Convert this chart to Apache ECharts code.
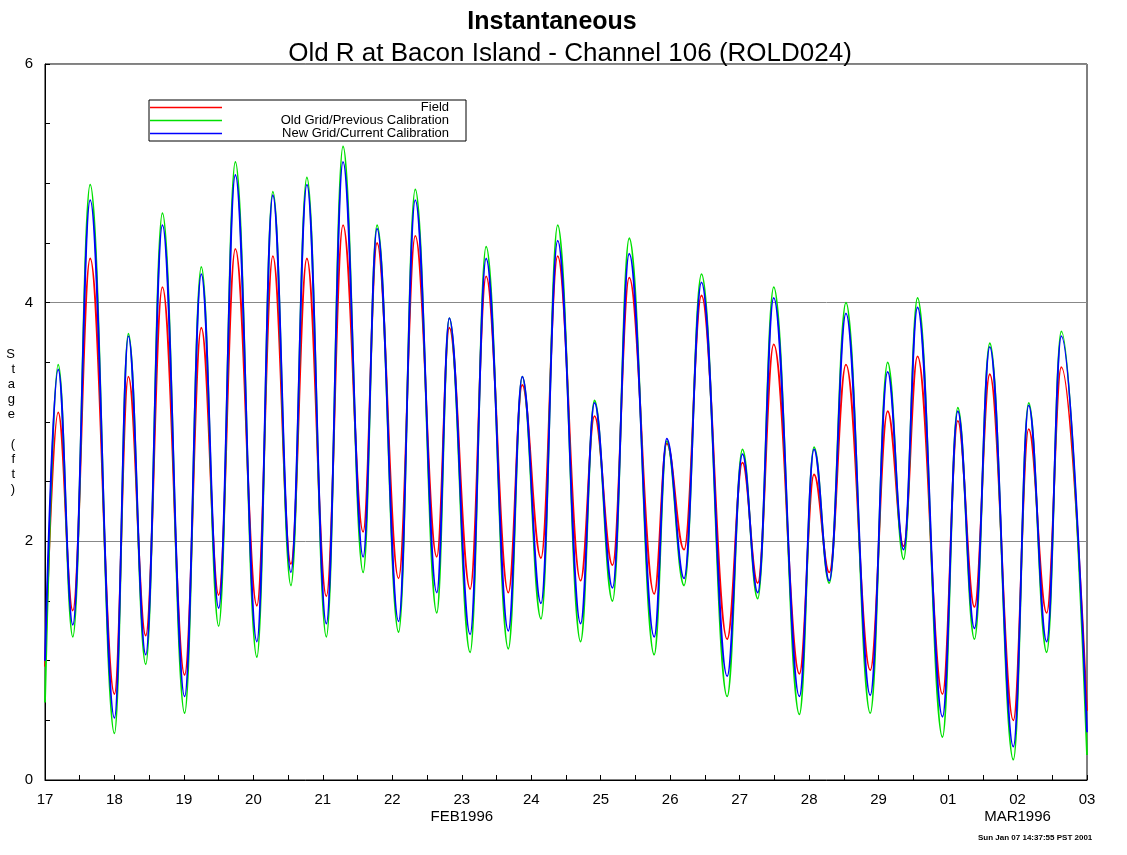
<!DOCTYPE html>
<html>
<head>
<meta charset="utf-8">
<script src="https://cdn.jsdelivr.net/npm/echarts@6/dist/echarts.min.js"></script>
<style>
html,body{margin:0;padding:0;background:#fff;}
#chart{width:1127px;height:855px;}
</style>
</head>
<body>
<div id="chart"></div>
<script>
// time in days since 17 FEB 1996 00:00 (high/low water turning points)
var timeDays = [0, 0.19, 0.40, 0.65, 1.00, 1.20, 1.45, 1.69, 2.01, 2.25, 2.50, 2.74, 3.05, 3.28, 3.54, 3.77, 4.05, 4.29, 4.58, 4.78, 5.09, 5.33, 5.64, 5.82, 6.12, 6.35, 6.67, 6.87, 7.14, 7.38, 7.71, 7.91, 8.17, 8.41, 8.77, 8.95, 9.20, 9.45, 9.82, 10.04, 10.26, 10.49, 10.86, 11.07, 11.29, 11.53, 11.88, 12.13, 12.36, 12.56, 12.92, 13.14, 13.38, 13.60, 13.94, 14.16, 14.42, 14.63, 15.0];
var fieldStage = [0.95, 3.08, 1.42, 4.37, 0.72, 3.38, 1.21, 4.13, 0.88, 3.79, 1.55, 4.45, 1.46, 4.39, 1.81, 4.37, 1.54, 4.65, 2.08, 4.50, 1.69, 4.56, 1.87, 3.79, 1.60, 4.22, 1.57, 3.31, 1.86, 4.39, 1.67, 3.05, 1.80, 4.21, 1.56, 2.82, 1.93, 4.06, 1.18, 2.66, 1.65, 3.65, 0.89, 2.56, 1.74, 3.48, 0.92, 3.09, 1.96, 3.55, 0.72, 3.01, 1.45, 3.40, 0.50, 2.94, 1.40, 3.46, 0.58];
var oldGridStage = [0.65, 3.48, 1.20, 4.99, 0.39, 3.74, 0.97, 4.75, 0.56, 4.30, 1.29, 5.18, 1.03, 4.93, 1.63, 5.05, 1.20, 5.31, 1.74, 4.65, 1.24, 4.95, 1.40, 3.87, 1.07, 4.47, 1.10, 3.38, 1.35, 4.65, 1.16, 3.18, 1.50, 4.54, 1.05, 2.84, 1.63, 4.24, 0.70, 2.77, 1.52, 4.13, 0.55, 2.79, 1.65, 4.00, 0.56, 3.50, 1.85, 4.04, 0.36, 3.12, 1.18, 3.66, 0.17, 3.16, 1.07, 3.76, 0.21];
var newGridStage = [1.00, 3.44, 1.30, 4.86, 0.52, 3.72, 1.05, 4.65, 0.70, 4.24, 1.44, 5.07, 1.16, 4.90, 1.74, 4.99, 1.31, 5.18, 1.87, 4.62, 1.33, 4.86, 1.57, 3.87, 1.22, 4.37, 1.25, 3.38, 1.48, 4.52, 1.31, 3.16, 1.61, 4.41, 1.20, 2.86, 1.69, 4.17, 0.87, 2.73, 1.57, 4.04, 0.70, 2.77, 1.67, 3.91, 0.71, 3.42, 1.93, 3.96, 0.53, 3.09, 1.27, 3.63, 0.28, 3.14, 1.16, 3.72, 0.40];
var xTickLabels = ['17', '18', '19', '20', '21', '22', '23\nFEB1996', '24', '25', '26', '27', '28', '29', '01', '02\nMAR1996', '03'];
var yTickLabels = ['0', '2', '4', '6'];
var seriesNames = ['Field', 'Old Grid/Previous Calibration', 'New Grid/Current Calibration'];

function pairs(vals) { return timeDays.map(function (t, i) { return [t, vals[i]]; }); }

var font = 'Liberation Sans, Arial, Helvetica, sans-serif';
var chart = echarts.init(document.getElementById('chart'), null, {renderer: 'canvas'});
function mkSeries(name, vals, color) {
  return {
    name: name, type: 'line', data: pairs(vals), showSymbol: false, symbol: 'none',
    smooth: 0.4, smoothMonotone: 'x', animation: false,
    lineStyle: {color: color, width: 1.8}, itemStyle: {color: color}
  };
}
chart.setOption({
  backgroundColor: '#ffffff',
  animation: false,
  title: [
    {text: 'Instantaneous', left: 547, top: 5, textAlign: 'center',
     textStyle: {fontFamily: font, fontSize: 25, fontWeight: 'bold', color: '#000'}},
    {text: 'Old R at Bacon Island - Channel 106 (ROLD024)', left: 565, top: 36, textAlign: 'center',
     textStyle: {fontFamily: font, fontSize: 26, fontWeight: 'normal', color: '#000'}}
  ],
  legend: {
    orient: 'vertical', left: 149, top: 100, itemGap: 0,
    data: seriesNames,
    icon: 'rect', itemWidth: 72, itemHeight: 1.5,
    borderColor: '#000', borderWidth: 1, padding: [1, 17, 1, 1],
    formatter: '{r|{name}}',
    textStyle: {fontFamily: font, fontSize: 13, color: '#000', lineHeight: 13,
      rich: {r: {width: 222, align: 'right', fontSize: 13, lineHeight: 13, fontFamily: font}}},
    selectedMode: false
  },
  grid: {left: 45, right: 40, top: 64, bottom: 75, show: true, borderColor: '#000', borderWidth: 1, containLabel: false},
  xAxis: {
    type: 'value', min: 0, max: 15, interval: 1,
    axisLine: {show: true, lineStyle: {color: '#000', width: 1}},
    axisTick: {show: true, inside: true, length: 5, lineStyle: {color: '#000'}},
    minorTick: {show: true, splitNumber: 2, length: 5, lineStyle: {color: '#000'}},
    splitLine: {show: false},
    axisLabel: {margin: 11, color: '#000', fontFamily: font, fontSize: 15, lineHeight: 17,
      formatter: function (v) { return xTickLabels[Math.round(v)] || ''; }}
  },
  yAxis: {
    type: 'value', min: 0, max: 6, interval: 2,
    name: 'S\nt\na\ng\ne\n \n(\nf\nt\n)', nameLocation: 'middle', nameGap: 30, nameRotate: 0,
    nameTextStyle: {fontFamily: font, fontSize: 13, lineHeight: 15, color: '#000'},
    axisLine: {show: true, lineStyle: {color: '#000', width: 1}},
    axisTick: {show: true, inside: true, length: 5, lineStyle: {color: '#000'}},
    minorTick: {show: true, splitNumber: 4, length: 5, lineStyle: {color: '#000'}},
    splitLine: {show: true, lineStyle: {color: '#888', width: 1}},
    axisLabel: {margin: 12, color: '#000', fontFamily: font, fontSize: 15,
      formatter: function (v) { return yTickLabels[Math.round(v / 2)] || ''; }}
  },
  graphic: [
    {type: 'text', left: 978, top: 834, style: {text: 'Sun Jan 07 14:37:55 PST 2001', fontFamily: font, fontSize: 8, fontWeight: 'bold', fill: '#000'}}
  ],
  series: [
    mkSeries(seriesNames[0], fieldStage, '#ff0000'),
    mkSeries(seriesNames[1], oldGridStage, '#00e000'),
    mkSeries(seriesNames[2], newGridStage, '#0000ff')
  ]
});
</script>
</body>
</html>
